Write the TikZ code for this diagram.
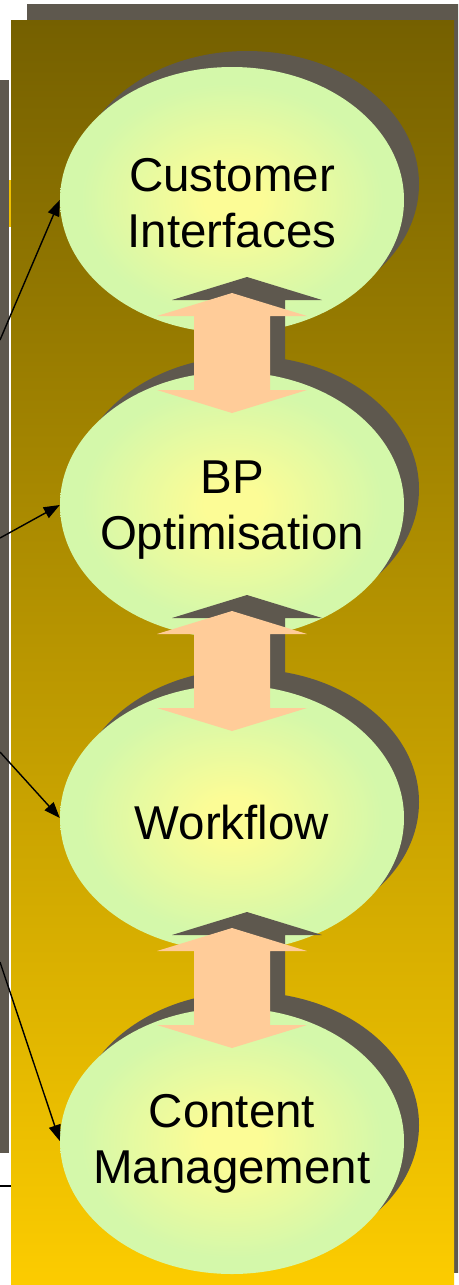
\documentclass[tikz,border=0pt]{standalone}
\usepackage{fontspec}
\setmainfont{Liberation Sans}
\usetikzlibrary{arrows.meta,shadows,shapes.geometric}
\definecolor{sgray}{RGB}{94,88,78}
\definecolor{ptop}{RGB}{117,96,0}
\definecolor{pbot}{RGB}{252,204,0}
\definecolor{ecenter}{RGB}{252,252,150}
\definecolor{eedge}{RGB}{212,248,170}
\definecolor{peach}{RGB}{255,204,153}
\definecolor{sliver}{RGB}{240,192,0}
\pgfdeclareradialshading{ellshade}{\pgfpoint{0bp}{0bp}}{color(0bp)=(ecenter); color(4bp)=(ecenter); color(22bp)=(eedge); color(50bp)=(eedge)}
\begin{document}
\begin{tikzpicture}[x=1pt,y=-1pt,
  ell/.style={ellipse, minimum width=344pt, minimum height=266pt, inner sep=0pt,
    shading=ellshade,
    drop shadow={shadow xshift=15pt,shadow yshift=16pt,fill=sgray,opacity=1}},
  lbl/.style={align=center, font=\fontsize{47.5}{56.5}\selectfont, inner sep=0pt, text=black},
  link/.style={line width=1.4pt, -{Triangle[length=16pt,width=12pt]}},
  dblarrow/.pic={\fill[pic actions] (0,0) -- (75,23) -- (38,23) -- (38,97) -- (75,97) -- (0,120)
     -- (-75,97) -- (-38,97) -- (-38,23) -- (-75,23) -- cycle;}]
\useasboundingbox (0,0) rectangle (458,1285);
\clip (0,0) rectangle (458,1285);
% background frames
\fill[white] (0,0) rectangle (458,1285);
\fill[sgray] (27,4) rectangle (470,1273);
\fill[sgray] (0,80) rectangle (9,1153);
\fill[sliver] (9,180) rectangle (11,227);
\draw[line width=1.2pt] (0,1186) -- (11,1186);
\shade[top color=ptop, bottom color=pbot] (11,20) rectangle (454,1285);
% ellipses and block arrows
\node[ell] (ci) at (232,200) {};
\node[lbl] (ci-t) at (232,203) {Customer\\Interfaces};
\pic[fill=sgray] at (247,277) {dblarrow};
\node[ell] (bp) at (232,505) {};
\node[lbl] (bp-t) at (232,510) {BP\\Optimisation};
\pic[fill=peach] at (232,293) {dblarrow};
\pic[fill=sgray] at (247,595) {dblarrow};
\node[ell] (wf) at (232,818) {};
\node[lbl] (wf-t) at (232,823) {Workflow};
\pic[fill=peach] at (232,611) {dblarrow};
\pic[fill=sgray] at (247,912) {dblarrow};
\node[ell] (cm) at (232,1141) {};
\node[lbl] (cm-t) at (232,1144) {Content\\Management};
\pic[fill=peach] at (232,928) {dblarrow};
% incoming connectors
\coordinate (s1) at (0,340);
\coordinate (s2) at (0,538);
\coordinate (s3) at (0,752);
\coordinate (s4) at (0,962);
\draw[link] (s1) -- (ci.west);
\draw[link] (s2) -- (bp.west);
\draw[link] (s3) -- (wf.west);
\draw[link] (s4) -- (cm.west);
\end{tikzpicture}
\end{document}
